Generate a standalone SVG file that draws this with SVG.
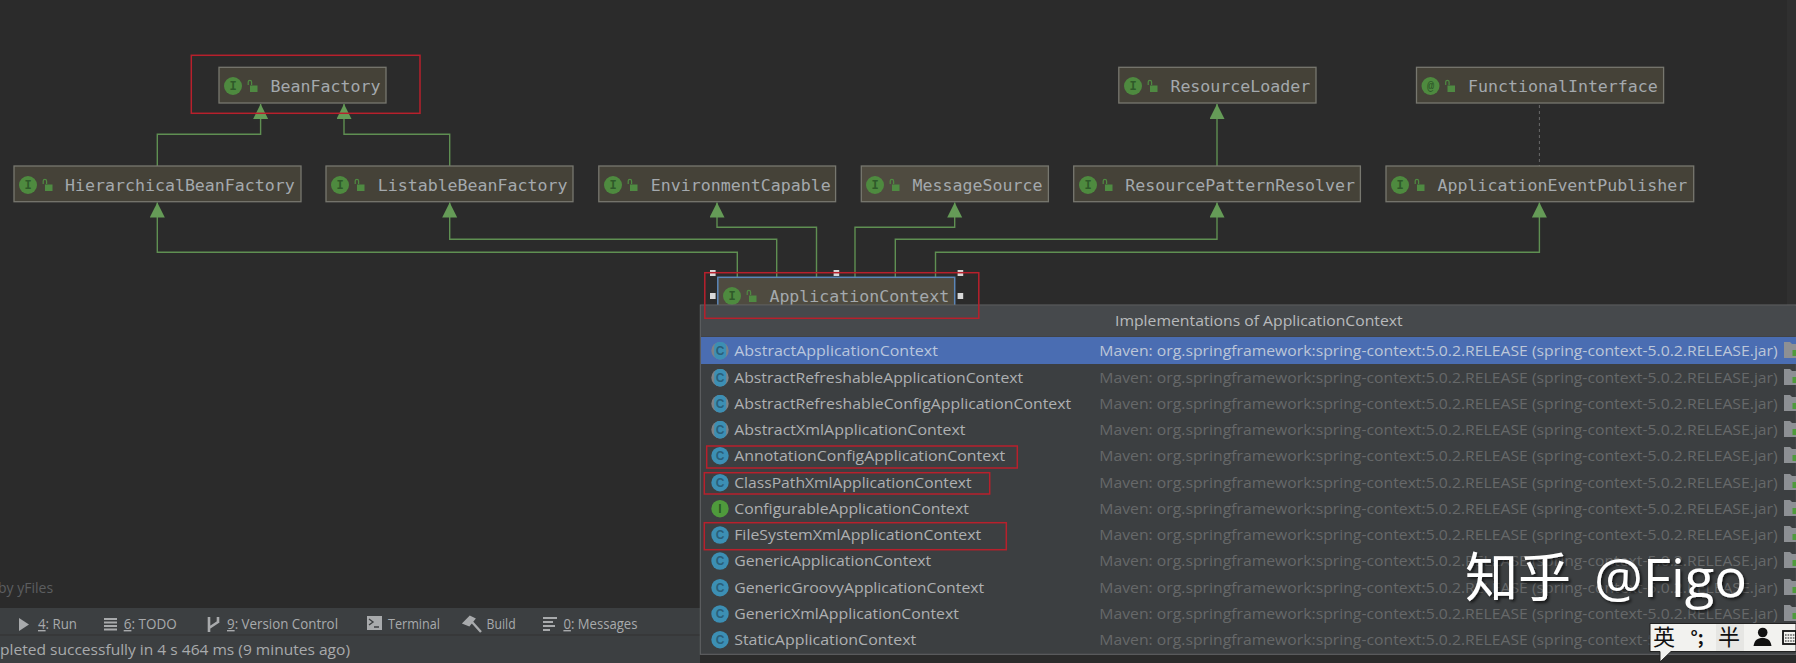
<svg xmlns="http://www.w3.org/2000/svg" xmlns:xlink="http://www.w3.org/1999/xlink" width="1796" height="663" viewBox="0 0 1796 663">
<style>
.n{fill:#454238;stroke:#77776f;stroke-width:1.3}
.nt{font-family:"DejaVu Sans Mono","Liberation Mono",monospace;font-size:16.6px;fill:#a4a9ad}
.ic{font-family:"Liberation Mono",monospace;font-size:12px;font-weight:bold;text-anchor:middle;fill:#2f5a2a}
.c{fill:none;stroke:#5f8f52;stroke-width:1.4}
.red{fill:none;stroke:#b8202c;stroke-width:1.5}
.h{fill:#d8d8d8}
.r{font-family:"Open Sans","Noto Sans",sans-serif;font-size:15px;fill:#aeb0b2}
.m{font-family:"Open Sans","Noto Sans",sans-serif;font-size:15px;fill:#666869}
.b{font-family:"Open Sans","Noto Sans",sans-serif;font-size:14px;fill:#a8aaac}
.ci{fill:#3c8fb4}
.ct{font-family:"Liberation Sans",sans-serif;font-size:12px;font-weight:bold;text-anchor:middle;fill:#2a5f7a}
.fo{fill:#8d9094}
.fg{fill:#4f9a3c}
</style>
<defs>
<marker id="tri" markerUnits="userSpaceOnUse" markerWidth="16" markerHeight="16" refX="15" refY="7.5" orient="auto"><path d="M0 0L15 7.5L0 15z" fill="#659b57"/></marker>
<g id="lock"><path d="M-3.8 -2V-5a1.7 1.7 0 0 1 3.4 0V-2" fill="none" stroke="#4f8a42" stroke-width="1.2"/><rect x="-2" y="-1.5" width="7.5" height="6.5" fill="#4f8a42"/></g>
<g id="folder"><path d="M0 0h6l2 2h4v14H0z" class="fo"/><rect x="8.5" y="8" width="4" height="6" class="fg"/></g>
<g id="abs"><circle cx="0" cy="0" r="8.7" fill="#7e8286"/><rect x="-5.8" y="-8.7" width="12" height="17.4" rx="5" class="ci"/><text class="ct" x="0" y="4.3">C</text></g>
<filter id="sh" x="-10%" y="-10%" width="120%" height="130%"><feDropShadow dx="2" dy="2" stdDeviation="1.5" flood-color="#000" flood-opacity="0.65"/></filter>
</defs>
<rect width="1796" height="663" fill="#2b2b2b"/>
<rect x="1787" y="0" width="9" height="305" fill="#303030"/>
<rect x="0" y="608" width="700" height="55" fill="#3c3f41"/>
<line x1="0" y1="635" x2="700" y2="635" stroke="#323232"/>
<text x="-2" y="593" font-family="'Open Sans',sans-serif" font-size="14px" fill="#5c5e60">by yFiles</text>

<g id="connectors">
<path class="c" marker-end="url(#tri)" d="M157.3 166V134.3H260.6V104"/>
<path class="c" marker-end="url(#tri)" d="M449.7 166V134.3H344V104"/>
<path class="c" marker-end="url(#tri)" d="M737.3 277V252.3H157.3V202.5"/>
<path class="c" marker-end="url(#tri)" d="M776.7 277V239.3H449.7V202.5"/>
<path class="c" marker-end="url(#tri)" d="M816.5 277V227.3H717V202.5"/>
<path class="c" marker-end="url(#tri)" d="M855 277V227.3H954.7V202.5"/>
<path class="c" marker-end="url(#tri)" d="M895.3 277V239.3H1217V202.5"/>
<path class="c" marker-end="url(#tri)" d="M935.5 277V252.3H1539.4V202.5"/>
<path class="c" marker-end="url(#tri)" d="M1217 166V104"/>
<path d="M1539.4 105V166" fill="none" stroke="#6a6a6a" stroke-width="1" stroke-dasharray="3 3"/>
</g>

<g id="node-beanfactory"><rect class="n" x="219" y="67.3" width="167" height="35.7"/><circle cx="233" cy="86" r="9" fill="#4e8a3f"/><text class="ic" x="233" y="90">I</text><use href="#lock" x="252" y="87"/><text class="nt" x="270.6" y="91.5">BeanFactory</text></g>
<g id="node-resourceloader"><rect class="n" x="1118.8" y="67.3" width="197.2" height="35.7"/><circle cx="1133" cy="86" r="9" fill="#4e8a3f"/><text class="ic" x="1133" y="90">I</text><use href="#lock" x="1152" y="87"/><text class="nt" x="1170.4" y="91.5">ResourceLoader</text></g>
<g id="node-functionalinterface"><rect class="n" x="1416.5" y="67.3" width="247.1" height="35.7"/><circle cx="1430.5" cy="86" r="9" fill="#4e8a3f"/><text class="ic" x="1430.5" y="90">@</text><use href="#lock" x="1449.5" y="87"/><text class="nt" x="1468" y="91.5">FunctionalInterface</text></g>
<g id="node-hierarchical"><rect class="n" x="14" y="166" width="287" height="35.7"/><circle cx="28" cy="185" r="9" fill="#4e8a3f"/><text class="ic" x="28" y="189">I</text><use href="#lock" x="47" y="186"/><text class="nt" x="65" y="190.5">HierarchicalBeanFactory</text></g>
<g id="node-listable"><rect class="n" x="326" y="166" width="247" height="35.7"/><circle cx="340" cy="185" r="9" fill="#4e8a3f"/><text class="ic" x="340" y="189">I</text><use href="#lock" x="359" y="186"/><text class="nt" x="377.7" y="190.5">ListableBeanFactory</text></g>
<g id="node-environment"><rect class="n" x="598.8" y="166" width="236.8" height="35.7"/><circle cx="613" cy="185" r="9" fill="#4e8a3f"/><text class="ic" x="613" y="189">I</text><use href="#lock" x="632" y="186"/><text class="nt" x="650.8" y="190.5">EnvironmentCapable</text></g>
<g id="node-message"><rect class="n" x="861.3" y="166" width="187.1" height="35.7" style="fill:#4f4b40"/><circle cx="875" cy="185" r="9" fill="#4e8a3f"/><text class="ic" x="875" y="189">I</text><use href="#lock" x="894" y="186"/><text class="nt" x="912.5" y="190.5">MessageSource</text></g>
<g id="node-resourcepattern"><rect class="n" x="1073.7" y="166" width="286.7" height="35.7"/><circle cx="1088" cy="185" r="9" fill="#4e8a3f"/><text class="ic" x="1088" y="189">I</text><use href="#lock" x="1107" y="186"/><text class="nt" x="1125.3" y="190.5">ResourcePatternResolver</text></g>
<g id="node-publisher"><rect class="n" x="1386" y="166" width="307.7" height="35.7"/><circle cx="1400" cy="185" r="9" fill="#4e8a3f"/><text class="ic" x="1400" y="189">I</text><use href="#lock" x="1419" y="186"/><text class="nt" x="1437.5" y="190.5">ApplicationEventPublisher</text></g>
<g id="node-applicationcontext"><rect x="717.8" y="277.3" width="236.9" height="36" fill="#4f4b40" stroke="#5b86b8" stroke-width="1.5"/><circle cx="732" cy="296" r="9" fill="#4e8a3f"/><text class="ic" x="732" y="300">I</text><use href="#lock" x="751" y="297"/><text class="nt" x="769.4" y="301.5">ApplicationContext</text>
<rect class="h" x="710" y="270" width="5.6" height="6"/><rect class="h" x="833.6" y="270" width="5.6" height="6"/><rect class="h" x="957.6" y="270" width="5.6" height="6"/><rect class="h" x="710" y="293" width="5.6" height="6"/><rect class="h" x="957.6" y="293" width="5.6" height="6"/></g>

<g id="popup">
<rect x="700.3" y="305" width="1096" height="349.3" fill="#3c3f41" stroke="#646668"/>
<rect x="701" y="306" width="1095" height="30.5" fill="#46494c"/>
<rect x="701" y="337" width="1095" height="27" fill="#4a6db2"/>
<text x="1115" y="325.5" font-family="'Open Sans',sans-serif" font-size="15px" fill="#b8babc" textLength="287.7" lengthAdjust="spacingAndGlyphs">Implementations of ApplicationContext</text>

<use href="#abs" x="720" y="350.7"/>
<text class="r" x="734.2" y="356" textLength="203.7" lengthAdjust="spacingAndGlyphs" style="fill:#b9c6dd">AbstractApplicationContext</text>
<text class="m" x="1099.3" y="356" textLength="678.4" lengthAdjust="spacingAndGlyphs" style="fill:#bcc6d8">Maven: org.springframework:spring-context:5.0.2.RELEASE (spring-context-5.0.2.RELEASE.jar)</text>

<use href="#abs" x="720" y="377.7"/>
<text class="r" x="734.2" y="383" textLength="289" lengthAdjust="spacingAndGlyphs">AbstractRefreshableApplicationContext</text>
<text class="m" x="1099.3" y="383" textLength="678.4" lengthAdjust="spacingAndGlyphs">Maven: org.springframework:spring-context:5.0.2.RELEASE (spring-context-5.0.2.RELEASE.jar)</text>

<use href="#abs" x="720" y="403.7"/>
<text class="r" x="734.2" y="409" textLength="337" lengthAdjust="spacingAndGlyphs">AbstractRefreshableConfigApplicationContext</text>
<text class="m" x="1099.3" y="409" textLength="678.4" lengthAdjust="spacingAndGlyphs">Maven: org.springframework:spring-context:5.0.2.RELEASE (spring-context-5.0.2.RELEASE.jar)</text>

<use href="#abs" x="720" y="429.7"/>
<text class="r" x="734.2" y="435" textLength="231.3" lengthAdjust="spacingAndGlyphs">AbstractXmlApplicationContext</text>
<text class="m" x="1099.3" y="435" textLength="678.4" lengthAdjust="spacingAndGlyphs">Maven: org.springframework:spring-context:5.0.2.RELEASE (spring-context-5.0.2.RELEASE.jar)</text>

<circle class="ci" cx="720" cy="455.7" r="8.7"/><text class="ct" x="720" y="460">C</text>
<text class="r" x="734.2" y="461" textLength="271" lengthAdjust="spacingAndGlyphs">AnnotationConfigApplicationContext</text>
<text class="m" x="1099.3" y="461" textLength="678.4" lengthAdjust="spacingAndGlyphs">Maven: org.springframework:spring-context:5.0.2.RELEASE (spring-context-5.0.2.RELEASE.jar)</text>

<circle class="ci" cx="720" cy="482.7" r="8.7"/><text class="ct" x="720" y="487">C</text>
<text class="r" x="734.2" y="488" textLength="237.3" lengthAdjust="spacingAndGlyphs">ClassPathXmlApplicationContext</text>
<text class="m" x="1099.3" y="488" textLength="678.4" lengthAdjust="spacingAndGlyphs">Maven: org.springframework:spring-context:5.0.2.RELEASE (spring-context-5.0.2.RELEASE.jar)</text>

<circle cx="720" cy="508.7" r="8.7" fill="#4f9a3c"/><text class="ct" x="720" y="513" style="fill:#2a5a24">I</text>
<text class="r" x="734.2" y="514" textLength="234.7" lengthAdjust="spacingAndGlyphs">ConfigurableApplicationContext</text>
<text class="m" x="1099.3" y="514" textLength="678.4" lengthAdjust="spacingAndGlyphs">Maven: org.springframework:spring-context:5.0.2.RELEASE (spring-context-5.0.2.RELEASE.jar)</text>

<circle class="ci" cx="720" cy="535" r="8.7"/><text class="ct" x="720" y="539.3">C</text>
<text class="r" x="734.2" y="540.3" textLength="247" lengthAdjust="spacingAndGlyphs">FileSystemXmlApplicationContext</text>
<text class="m" x="1099.3" y="540.3" textLength="678.4" lengthAdjust="spacingAndGlyphs">Maven: org.springframework:spring-context:5.0.2.RELEASE (spring-context-5.0.2.RELEASE.jar)</text>

<circle class="ci" cx="720" cy="561" r="8.7"/><text class="ct" x="720" y="565.3">C</text>
<text class="r" x="734.2" y="566.3" textLength="197" lengthAdjust="spacingAndGlyphs">GenericApplicationContext</text>
<text class="m" x="1099.3" y="566.3" textLength="678.4" lengthAdjust="spacingAndGlyphs">Maven: org.springframework:spring-context:5.0.2.RELEASE (spring-context-5.0.2.RELEASE.jar)</text>

<circle class="ci" cx="720" cy="587.7" r="8.7"/><text class="ct" x="720" y="592">C</text>
<text class="r" x="734.2" y="593" textLength="250" lengthAdjust="spacingAndGlyphs">GenericGroovyApplicationContext</text>
<text class="m" x="1099.3" y="593" textLength="678.4" lengthAdjust="spacingAndGlyphs">Maven: org.springframework:spring-context:5.0.2.RELEASE (spring-context-5.0.2.RELEASE.jar)</text>

<circle class="ci" cx="720" cy="614" r="8.7"/><text class="ct" x="720" y="618.3">C</text>
<text class="r" x="734.2" y="619.3" textLength="224.7" lengthAdjust="spacingAndGlyphs">GenericXmlApplicationContext</text>
<text class="m" x="1099.3" y="619.3" textLength="678.4" lengthAdjust="spacingAndGlyphs">Maven: org.springframework:spring-context:5.0.2.RELEASE (spring-context-5.0.2.RELEASE.jar)</text>

<circle class="ci" cx="720" cy="639.7" r="8.7"/><text class="ct" x="720" y="644">C</text>
<text class="r" x="734.2" y="645" textLength="182" lengthAdjust="spacingAndGlyphs">StaticApplicationContext</text>
<text class="m" x="1099.3" y="645" textLength="678.4" lengthAdjust="spacingAndGlyphs">Maven: org.springframework:spring-context:5.0.2.RELEASE (spring-context-5.0.2.RELEASE.jar)</text>

<use href="#folder" x="1784" y="342"/><use href="#folder" x="1784" y="369"/><use href="#folder" x="1784" y="395"/><use href="#folder" x="1784" y="421"/><use href="#folder" x="1784" y="447"/><use href="#folder" x="1784" y="474"/><use href="#folder" x="1784" y="500"/><use href="#folder" x="1784" y="526"/><use href="#folder" x="1784" y="552"/><use href="#folder" x="1784" y="579"/><use href="#folder" x="1784" y="605"/>
</g>

<g id="highlights">
<rect class="red" x="191.3" y="55.3" width="228.7" height="58"/>
<rect class="red" x="704.8" y="272.7" width="274" height="45.6"/>
<rect class="red" x="706.7" y="446" width="310.6" height="22"/>
<rect class="red" x="704.3" y="472.7" width="285.4" height="21.3"/>
<rect class="red" x="704.3" y="522.7" width="302" height="27"/>
</g>

<g id="toolbar">
<path d="M19 618l10 6.5l-10 6.5z" fill="#a8aaac"/>
<text class="b" x="38" y="629" textLength="39" lengthAdjust="spacingAndGlyphs"><tspan text-decoration="underline">4</tspan>: Run</text>
<path d="M104 619h13M104 622.5h13M104 626h13M104 629.5h13" stroke="#a8aaac" stroke-width="1.8" fill="none"/>
<text class="b" x="123.7" y="629" textLength="53" lengthAdjust="spacingAndGlyphs"><tspan text-decoration="underline">6</tspan>: TODO</text>
<path d="M209 617v15M209 628l9 -6M218 617v6" stroke="#a8aaac" stroke-width="2.6" fill="none"/>
<text class="b" x="227" y="629" textLength="111" lengthAdjust="spacingAndGlyphs"><tspan text-decoration="underline">9</tspan>: Version Control</text>
<rect x="367" y="616" width="15" height="14" fill="#a8aaac"/><path d="M369 619l4 3l-4 3M374 627h5" stroke="#3c3f41" stroke-width="1.4" fill="none"/>
<text class="b" x="388" y="629" textLength="52" lengthAdjust="spacingAndGlyphs">Terminal</text>
<path d="M464 623l6 -6l4 2l-5 6zM472 622l9 10" stroke="#a8aaac" stroke-width="2.4" fill="#a8aaac"/>
<text class="b" x="486.6" y="629" textLength="29" lengthAdjust="spacingAndGlyphs">Build</text>
<path d="M543 618h14M543 622h10M543 626h12M543 630h7" stroke="#a8aaac" stroke-width="2.2" fill="none"/>
<text class="b" x="563.4" y="629" textLength="74" lengthAdjust="spacingAndGlyphs"><tspan text-decoration="underline">0</tspan>: Messages</text>
<text class="b" x="0" y="655" textLength="350" lengthAdjust="spacingAndGlyphs" style="font-size:15px">pleted successfully in 4 s 464 ms (9 minutes ago)</text>
</g>

<g id="watermark" filter="url(#sh)">
<text x="1465" y="597" font-family="'Noto Sans CJK SC',sans-serif" font-size="53px" fill="#ffffff">知乎</text>
<text x="1594" y="597" font-family="'Open Sans',sans-serif" font-size="53px" fill="#ffffff" textLength="153" lengthAdjust="spacingAndGlyphs">@Figo</text>
</g>

<g id="ime">
<path d="M1650 623.5H1796V651.5H1671L1660 662V651.5H1650z" fill="#f2f2ef" stroke="#222" stroke-width="1"/>
<rect x="1716" y="624" width="28" height="27" fill="#e6e6e3"/>
<text x="1664" y="645" text-anchor="middle" font-family="'Noto Sans CJK SC',sans-serif" font-size="22px" fill="#111">英</text>
<text x="1697" y="644" text-anchor="middle" font-family="'Noto Sans CJK SC',sans-serif" font-size="18px" font-weight="bold" fill="#111">°;</text>
<text x="1729" y="645" text-anchor="middle" font-family="'Noto Sans CJK SC',sans-serif" font-size="22px" fill="#111">半</text>
<circle cx="1762.7" cy="632.5" r="4.8" fill="#111"/><path d="M1753.5 646c1 -6 4 -8 9 -8s8 2 9 8z" fill="#111"/>
<rect x="1783" y="631" width="13" height="13" fill="none" stroke="#111" stroke-width="1.8"/><path d="M1785 635h11M1785 638h11M1785 641h11" stroke="#111" stroke-width="1.2" stroke-dasharray="1.6 1"/>
</g>
</svg>
